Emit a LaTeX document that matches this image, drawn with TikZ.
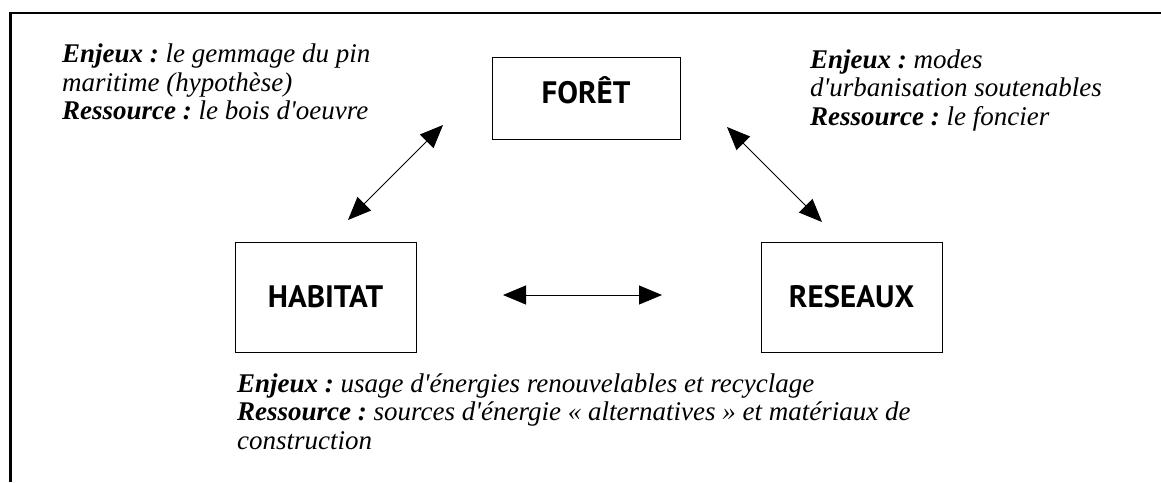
\documentclass[tikz,border=0pt]{standalone}
\usepackage{fontspec}
\setmainfont{Liberation Serif}
\newfontfamily\polefont{PT Sans}
\usetikzlibrary{arrows.meta}
\newcommand{\apos}{\textquotesingle}
\tikzset{
pole/.style={draw,line width=0.8pt,minimum width=181pt,minimum height=110pt,
  text height=21pt,text depth=0pt,
  font=\polefont\bfseries\fontsize{31}{34}\selectfont},
enjeux/.style={anchor=north west,align=left,inner sep=0pt,
  font=\frenchspacing\itshape\fontsize{27}{28.5}\selectfont},
lien/.style={{Triangle[length=23pt,width=19pt]}-{Triangle[length=23pt,width=19pt]},line width=0.9pt}
}
\begin{document}
\begin{tikzpicture}[x=1pt,y=-1pt]
\useasboundingbox (0,0) rectangle (1161,482);
\draw[line width=2.5pt] (10.5,482) -- (10.5,13) -- (1161,13);
\node[pole,minimum width=188pt,minimum height=82pt,text depth=11pt]
(foret) at (586,98) {FORÊT};
\node[pole]
(habitat) at (325.5,297) {HABITAT};
\node[pole]
(reseaux) at (851.5,297) {RESEAUX};
\node[enjeux]
(tfor) at (62,44) {\textbf{Enjeux :} le gemmage du pin\\maritime (hypothèse)\\\textbf{Ressource :} le bois d\apos oeuvre};
\node[enjeux]
(tres) at (810,49.5) {\textbf{Enjeux :} modes\\d\apos urbanisation soutenables\\\textbf{Ressource :} le foncier};
\node[enjeux]
(thab) at (237,373.5) {\textbf{Enjeux :} usage d\apos énergies renouvelables et recyclage\\\textbf{Ressource :} sources d\apos énergie « alternatives » et matériaux de\\construction};
\coordinate (fh1) at (348,220);
\coordinate (fh2) at (443,125);
\coordinate (fr1) at (727,127);
\coordinate (fr2) at (822,222);
\coordinate (hr1) at (503,295);
\coordinate (hr2) at (662,295);
\draw[lien](fh1) -- (fh2);
\draw[lien](fr1) -- (fr2);
\draw[lien](hr1) -- (hr2);
\end{tikzpicture}
\end{document}
